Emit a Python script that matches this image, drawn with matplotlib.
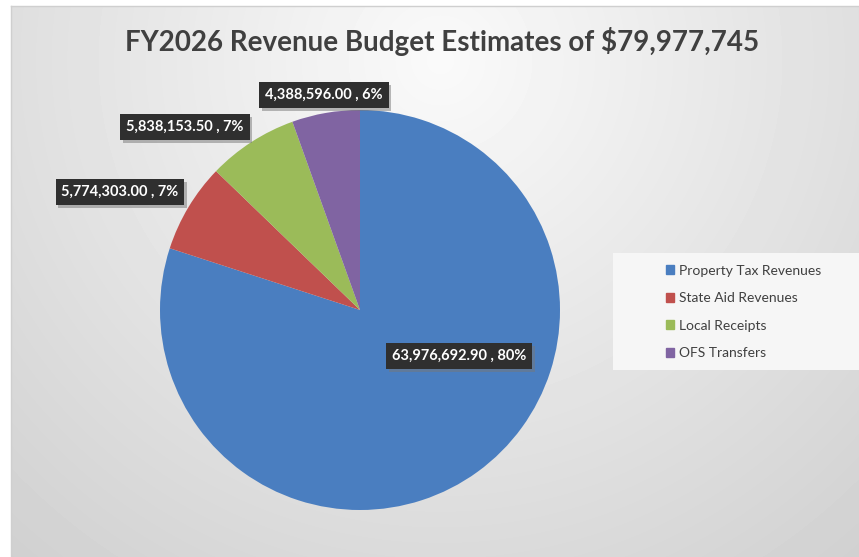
import matplotlib.pyplot as plt
import matplotlib.patheffects as pe
import numpy as np

categorias = ['Property Tax Revenues', 'State Aid Revenues', 'Local Receipts', 'OFS Transfers']
valores = [63976692.90, 5774303.00, 5838153.50, 4388596.00]
porcentajes = [80, 7, 7, 6]  # tal como aparecen en el grafico
colores = ['#4a7ec0', '#c0504d', '#9bbb59', '#8064a2']
titulo = 'FY2026 Revenue Budget Estimates of $79,977,745'

# posiciones de las etiquetas en pixeles (x, y desde arriba)
pos_etiquetas = [(459, 356), (120, 192), (185, 127), (324, 95)]

W, H = 859, 557
fig = plt.figure(figsize=(W / 100, H / 100), dpi=100)
fig.patch.set_facecolor('white')
ax = fig.add_axes([0, 0, 1, 1])

# fondo degradado gris (area del grafico)
x0, y0 = 11, 6
yy, xx = np.mgrid[y0:H, x0:W]
d = np.sqrt((xx - 440) ** 2 + (yy - 60) ** 2) / 600
fondo = 0.98 - 0.15 * d
ax.imshow(fondo, cmap='gray', vmin=0, vmax=1, extent=[x0, W, 0, H - y0],
          origin='upper', zorder=0, interpolation='bilinear')
ax.plot([x0, W], [H - y0, H - y0], color='#cfcfcf', lw=1, zorder=1)
ax.plot([x0, x0], [0, H - y0], color='#cfcfcf', lw=1, zorder=1)

wedges, _ = ax.pie(valores, colors=colores, startangle=90, counterclock=False,
                   center=(360, H - 310), radius=200, frame=True,
                   wedgeprops=dict(linewidth=0))
for w in wedges:
    w.set_zorder(2)
ax.set_xlim(0, W)
ax.set_ylim(0, H)
ax.set_aspect('equal')
ax.axis('off')

for v, p, (px, py) in zip(valores, porcentajes, pos_etiquetas):
    txt = f'{v:,.2f} , {p}%'
    t = ax.text(px, H - py, txt, ha='center', va='center', color='white',
                fontsize=10.5, fontweight='bold', family='Lato', zorder=5,
                bbox=dict(boxstyle='square,pad=0.4', facecolor='#2f2f2f', edgecolor='none'))
    t.get_bbox_patch().set_path_effects([
        pe.SimplePatchShadow(offset=(2, -2), shadow_rgbFace='#777777', alpha=0.5),
        pe.Normal()])

ax.text(442, H - 42, titulo, ha='center', va='center', fontsize=20,
        family='Lato', fontweight='bold', color='#404040', zorder=5)

# leyenda
ax.add_patch(plt.Rectangle((613, H - 370), 250, 117, facecolor='#f6f6f6',
                           edgecolor='none', zorder=3))
handles = [plt.Rectangle((0, 0), 1, 1, color=c) for c in colores]
leg = fig.legend(handles, categorias, loc='upper left', bbox_to_anchor=(653 / W, 1 - 252 / H),
                 frameon=False, handlelength=0.6, handleheight=0.6,
                 handletextpad=0.4, labelspacing=1.12, prop={'family': 'Lato', 'size': 10})
for t in leg.get_texts():
    t.set_color('#404040')

plt.savefig('out.png', dpi=100)
